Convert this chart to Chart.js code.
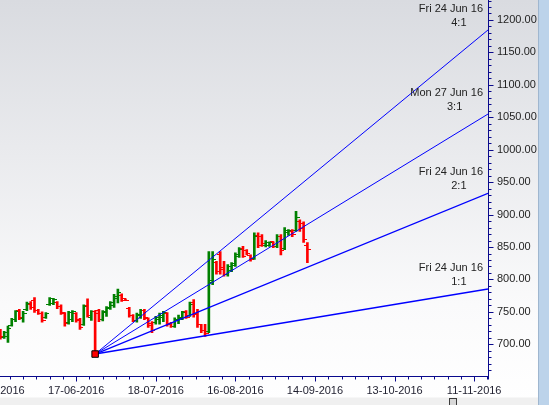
<!DOCTYPE html>
<html lang="en">
<head>
<meta charset="UTF-8">
<title>Gann fan</title>
<script src="https://cdn.jsdelivr.net/npm/chart.js"></script>
<style>
    html, body { margin: 0; padding: 0; background: #fff; }
    #wrap { width: 549px; height: 405px; position: relative; }
</style>
</head>
<body>
<div id="wrap"><canvas id="chart" width="549" height="405"></canvas></div>
<script>
// OHLC bars, one per trading day (index 0 = first bar at the left edge)
const opens  = [720,711,712,729,738,752,740,754,762,768,752,748,741,762,763,765,758,748,733,738,748,738,730,760,742,751,
                752,738,750,755,760,770,776,770,755,744,737,745,752,740,732,733,738,742,748,732,728,736,740,750,745,764,748,730,722,
                720,798,826,838,818,808,814,822,836,848,845,837,832,868,866,852,853,858,851,866,848,873,874,876,890,886,852];
const highs  = [723,720,728,740,752,754,751,765,766,772,754,750,749,772,771,766,761,749,751,752,749,740,761,770,752,752,
                754,752,758,766,777,785,778,770,757,746,748,754,754,741,735,743,748,751,749,734,741,745,751,752,765,769,754,731,731,
                843,843,828,843,828,823,826,841,849,851,846,838,872,872,869,860,858,858,869,869,880,877,877,905,892,889,857];
const lows   = [708,709,703,728,735,738,734,752,754,749,746,734,740,760,761,755,746,728,731,735,734,723,729,742,737,685,
                735,736,743,754,757,764,766,768,742,735,734,740,738,726,718,731,731,735,728,726,726,732,738,740,743,742,726,718,712,
                718,792,808,808,805,805,812,820,834,834,838,828,831,849,851,850,851,849,849,838,846,868,866,874,874,857,826];
const closes = [712,718,725,738,750,742,748,763,756,752,748,736,747,770,769,758,749,732,749,750,736,726,758,745,750,747,
                738,749,756,764,773,780,768,768,745,737,746,752,741,729,722,741,745,749,731,728,738,742,749,742,762,746,730,721,716,
                795,830,812,815,808,820,824,838,846,836,840,830,866,852,855,857,857,851,866,845,876,875,869,895,878,861,846];

// Gann fan: anchor (Brexit low) and value of each ray at the right edge
const anchorIdx = 25;
const anchorVal = 685;
const fanEnds   = [785.3, 932.8, 1055, 1184.6];
const fanRatios = ['1:1', '2:1', '3:1', '4:1'];
const fanDates  = ['Fri 24 Jun 16', 'Fri 24 Jun 16', 'Mon 27 Jun 16', 'Fri 24 Jun 16'];
const fanWidths = [1.6, 1.3, 1, 1];

// axes
const xMin = -0.1, xMax = 128.65;
const xTickIdx = [-1, 20, 41, 62, 83, 104, 125];
const xTickLabels = ['18-05-2016', '17-06-2016', '18-07-2016', '16-08-2016', '14-09-2016', '13-10-2016', '11-11-2016'];
const yMin = 650.4, yMax = 1230.8;
const yTicks = [700, 750, 800, 850, 900, 950, 1000, 1050, 1100, 1150, 1200];

const UP = '#008000', DOWN = '#ff0000', FAN = '#0000ff', AXIS = '#0a0a8c';

function tickImg(color, left) {
    const cv = document.createElement('canvas');
    cv.width = 7; cv.height = 1;
    const c = cv.getContext('2d');
    c.fillStyle = color;
    if (left) c.fillRect(0, 0, 4, 1); else c.fillRect(3, 0, 4, 1);
    return cv;
}
const imgs = {
    upO: tickImg(UP, true), upC: tickImg(UP, false),
    dnO: tickImg(DOWN, true), dnC: tickImg(DOWN, false)
};
const isUp = i => closes[i] >= opens[i];
const idx = closes.map((_, i) => i);

const decor = {
    id: 'decor',
    beforeDraw(chart) {
        const c = chart.ctx;
        const g = c.createLinearGradient(0, 0, 0, chart.height);
        g.addColorStop(0, '#d9dbe0');
        g.addColorStop(0.75, '#fafafb');
        g.addColorStop(1, '#ffffff');
        c.save();
        c.fillStyle = g;
        c.fillRect(0, 0, chart.width, chart.height);
        c.restore();
    },
    afterDraw(chart) {
        const c = chart.ctx, a = chart.chartArea, xs = chart.scales.x, ys = chart.scales.y;
        const rx = a.right + 0.5;
        c.save();
        c.strokeStyle = AXIS;
        c.lineWidth = 1;
        c.beginPath();
        c.moveTo(a.left, a.bottom); c.lineTo(rx, a.bottom);
        c.moveTo(rx, a.top); c.lineTo(rx, a.bottom + 3);
        // x ticks, 6 steps between labels
        for (let k = 0; ; k++) {
            const t = xTickIdx[0] + k * 3.5;
            if (t > xMax) break;
            if (t < xMin) continue;
            const px = Math.round(xs.getPixelForValue(t)) + 0.5;
            c.moveTo(px, a.bottom);
            c.lineTo(px, a.bottom + (k % 6 === 0 ? 5 : 3));
        }
        // y ticks every 10
        for (let v = 660; v < yMax; v += 10) {
            const py = Math.round(ys.getPixelForValue(v)) + 0.5;
            c.moveTo(rx, py);
            c.lineTo(rx + (v % 50 === 0 ? 5 : 3), py);
        }
        c.stroke();

        // fan labels
        c.font = '11px "Liberation Sans", Arial, sans-serif';
        c.fillStyle = '#222';
        c.textBaseline = 'middle';
        fanEnds.forEach((v, i) => {
            const py = ys.getPixelForValue(v);
            const right = a.right - 5;
            c.textAlign = 'right';
            c.fillText(fanDates[i], right, py - 21.5);
            const w = c.measureText(fanDates[i]).width;
            c.textAlign = 'center';
            c.fillText(fanRatios[i], right - w / 2 + 8, py - 7.5);
        });

        // window chrome: scroll strip at the bottom, blue edge on the right
        c.fillStyle = '#f0f0f0';
        c.fillRect(0, 397.5, 539, 8);
        c.fillStyle = '#d8d8d8';
        c.fillRect(449.5, 398.5, 7, 7);
        c.strokeStyle = '#3c3c3c';
        c.strokeRect(449.5, 398.5, 7, 7);
        c.fillStyle = '#bcd3ea';
        c.fillRect(538, 0, 11, chart.height);
        c.fillStyle = '#9fb6cf';
        c.fillRect(538, 0, 1, chart.height);
        c.restore();
    }
};

Chart.defaults.font.family = '"Liberation Sans", Arial, sans-serif';
Chart.defaults.font.size = 11;
Chart.defaults.color = '#1e1e1e';

const datasets = [
    {
        type: 'bar',
        data: idx.map(i => ({ x: i, y: [lows[i], highs[i]] })),
        backgroundColor: idx.map(i => isUp(i) ? UP : DOWN),
        barThickness: 2,
        grouped: false,
        order: 3
    },
    {
        type: 'scatter',
        data: idx.map(i => ({ x: i, y: opens[i] })),
        pointStyle: ctx => isUp(ctx.dataIndex) ? imgs.upO : imgs.dnO,
        pointRadius: 2,
        order: 3
    },
    {
        type: 'scatter',
        data: idx.map(i => ({ x: i, y: closes[i] })),
        pointStyle: ctx => isUp(ctx.dataIndex) ? imgs.upC : imgs.dnC,
        pointRadius: 2,
        order: 3
    }
];
fanEnds.forEach((v, i) => {
    datasets.push({
        type: 'line',
        data: [{ x: anchorIdx, y: anchorVal }, { x: xMax, y: v }],
        borderColor: FAN,
        borderWidth: fanWidths[i],
        pointRadius: 0,
        fill: false,
        order: 1
    });
});
datasets.push({
    type: 'scatter',
    data: [{ x: anchorIdx, y: anchorVal }],
    pointStyle: 'rect',
    pointRadius: 4.6,
    backgroundColor: '#ff0000',
    borderColor: '#000',
    borderWidth: 1,
    order: 0
});

new Chart(document.getElementById('chart'), {
    type: 'bar',
    data: { datasets },
    options: {
        responsive: false,
        animation: false,
        events: [],
        layout: { autoPadding: false, padding: { left: 0, top: 0, right: 10, bottom: 7 } },
        plugins: { legend: { display: false }, tooltip: { enabled: false } },
        scales: {
            x: {
                type: 'linear',
                position: 'bottom',
                min: xMin,
                max: xMax,
                offset: false,
                grid: { display: false, drawTicks: false },
                border: { display: false },
                afterBuildTicks: s => { s.ticks = xTickIdx.map(v => ({ value: v })); },
                afterFit: s => { s.height = 21.5; s.paddingLeft = 0; s.paddingRight = 0; },
                ticks: {
                    autoSkip: false,
                    maxRotation: 0,
                    padding: 8,
                    color: '#1e1e2e',
                    callback: v => xTickLabels[xTickIdx.indexOf(v)]
                }
            },
            y: {
                type: 'linear',
                position: 'right',
                min: yMin,
                max: yMax,
                grid: { display: false, drawTicks: false },
                border: { display: false },
                afterBuildTicks: s => { s.ticks = yTicks.map(v => ({ value: v })); },
                afterFit: s => { s.width = 51; s.paddingTop = 0; s.paddingBottom = 0; },
                ticks: {
                    padding: 9,
                    color: '#1e1e1e',
                    callback: v => Number(v).toFixed(2)
                }
            }
        }
    },
    plugins: [decor]
});
</script>
</body>
</html>
